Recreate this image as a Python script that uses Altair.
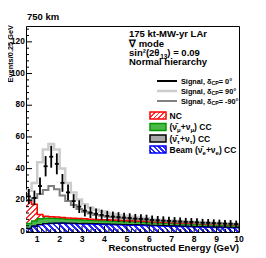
import altair as alt
import pandas as pd

# ---------------- data ----------------
# 38 bins of 0.25 GeV between 0.5 and 10 GeV (lower bin edges)
bin_lo = [round(0.5 + 0.25 * i, 3) for i in range(38)]

# stacked backgrounds (per-bin contributions, events / 0.25 GeV)
beam = [2.2, 3.7, 4.6, 5.2, 5.4, 5.5, 5.5, 5.4, 5.3, 5.2, 5.1, 5.0, 4.9, 4.8, 4.7, 4.6, 4.5, 4.4, 4.3, 4.3, 4.2, 4.1,
        4.0, 3.9, 3.8, 3.7, 3.6, 3.5, 3.4, 3.3, 3.2, 3.1, 3.0, 2.9, 2.9, 2.8, 2.7, 2.7]
tau = [0.1, 0.1, 0.1, 0.1, 0.1, 0.1, 0.2, 0.2, 0.2, 0.2, 0.4, 0.4, 0.4, 0.4, 0.4, 0.4, 0.4, 0.4, 0.4, 0.4, 0.4, 0.4,
       0.3, 0.3, 0.3, 0.3, 0.3, 0.3, 0.3, 0.3, 0.3, 0.3, 0.3, 0.3, 0.3, 0.3, 0.3, 0.3]
numu = [3.1, 3.2, 3.6, 3.3, 3.1, 2.9, 2.6, 2.5, 2.4, 2.3, 2.0, 2.0, 1.9, 1.9, 1.9, 1.8, 1.8, 1.8, 1.8, 1.7, 1.7, 1.7,
        1.6, 1.6, 1.5, 1.5, 1.5, 1.4, 1.4, 1.4, 1.3, 1.3, 1.3, 1.2, 1.2, 1.2, 1.1, 1.1]
nc = [14.6, 10.5, 2.7, 1.4, 1.0, 0.9, 0.8, 0.8, 0.8, 0.8, 0.8, 0.7, 0.7, 0.7, 0.7, 0.7, 0.7, 0.6, 0.6, 0.6, 0.6, 0.6,
      0.5, 0.5, 0.5, 0.5, 0.5, 0.5, 0.5, 0.5, 0.5, 0.5, 0.5, 0.5, 0.5, 0.5, 0.5, 0.5]

# signal + background totals
sig0 = [22.5, 21.5, 29, 41.5, 47.5, 43, 31, 25, 19.5, 16, 13.5, 12.3, 11.5, 10.8, 10.2, 9.8, 9.4, 9.1, 8.8, 8.5, 8.3, 8.1,
        7.6, 7.4, 7.2, 7.0, 6.8, 6.6, 6.4, 6.3, 6.1, 5.9, 5.8, 5.6, 5.5, 5.3, 5.2, 5.0]
err0 = [4.7, 4.6, 5.4, 6.4, 6.9, 6.6, 5.6, 5.0, 4.4, 4.0, 3.7, 3.5, 3.4, 3.3, 3.2, 3.1, 3.1, 3.0, 3.0, 2.9, 2.9, 2.8,
        2.8, 2.7, 2.7, 2.6, 2.6, 2.6, 2.5, 2.5, 2.5, 2.4, 2.4, 2.4, 2.3, 2.3, 2.3, 2.2]
sig90 = [26, 31, 44, 52, 55.5, 52, 40, 31, 25, 20.5, 17.5, 15.5, 14, 13, 12, 11.3, 10.7, 10.2, 9.8, 9.4, 9.0, 8.7,
         7.9, 7.7, 7.5, 7.3, 7.1, 6.9, 6.7, 6.5, 6.4, 6.2, 6.0, 5.8, 5.7, 5.5, 5.4, 5.2]
sigm90 = [20, 21.5, 24, 26.5, 29, 27, 23, 19.5, 17, 14.5, 12.8, 11.6, 10.8, 10.2, 9.7, 9.3, 9.0, 8.7, 8.4, 8.2, 8.0, 7.8,
          7.3, 7.1, 6.9, 6.7, 6.6, 6.4, 6.2, 6.1, 5.9, 5.7, 5.6, 5.4, 5.3, 5.1, 5.0, 4.9]

x_major = [1, 2, 3, 4, 5, 6, 7, 8, 9, 10]
y_major = [0, 20, 40, 60, 80, 100, 120]
x_minor = [round(0.6 + 0.2 * i, 2) for i in range(48) if abs((0.6 + 0.2 * i) - round(0.6 + 0.2 * i)) > 1e-6]
y_minor = [4 * i for i in range(33) if (4 * i) % 20 != 0]

# ---------------- derived tables ----------------
df = pd.DataFrame(dict(lo=bin_lo, beam=beam, tau=tau, numu=numu, nc=nc,
                       sig0=sig0, err0=err0, sig90=sig90, sigm90=sigm90))
df["c"] = df.lo + 0.125
df["b0"] = 0.0
df["b1"] = df.beam
df["b2"] = df.b1 + df.tau
df["b3"] = df.b2 + df.numu
df["b4"] = df.b3 + df.nc
df["elo"] = df.sig0 - df.err0
df["ehi"] = df.sig0 + df.err0
df["xl"] = df.c - 0.09
df["xr"] = df.c + 0.09
last = df.iloc[[-1]].copy()
last["lo"] = 10.0
edges = pd.concat([df, last], ignore_index=True)

W, H = 213, 206
YMAX = 130.0
FONT = "Liberation Sans"
LFS = 8.6
xs = alt.Scale(domain=[0.5, 10], nice=False, zero=False)
ys = alt.Scale(domain=[0, YMAX], nice=False, zero=True)


def X(f):
    return alt.X(f, scale=xs, axis=None)


def Y(f):
    return alt.Y(f, scale=ys, axis=None)


def ypix(v):
    return H - v * H / YMAX


def hatch(color, w, h, spacing=4.0, lw=1.2, back="white", direction="/"):
    """Diagonal hatch built as a hard-stop linear gradient over the mark's bounding box."""
    k = (w + h) / (w * w + h * h)
    n = max(1, int(round((w + h) / (spacing * 2 ** 0.5))))
    f = lw / spacing
    stops = []
    for i in range(n):
        a, b, e = i / n, (i + f) / n, (i + 1) / n
        stops += [alt.GradientStop(offset=a, color=color), alt.GradientStop(offset=b, color=color),
                  alt.GradientStop(offset=b, color=back), alt.GradientStop(offset=e, color=back)]
    if direction == "/":
        return alt.LinearGradient(gradient="linear", stops=stops, x1=0, y1=0, x2=k * w, y2=k * h)
    return alt.LinearGradient(gradient="linear", stops=stops, x1=0, y1=1, x2=k * w, y2=1 - k * h)


layers = []


def area(top, bot, fill):
    return alt.Chart(edges).mark_area(interpolate="step-after", fill=fill, strokeWidth=0).encode(
        x=X("lo:Q"), y=Y(f"{top}:Q"), y2=f"{bot}:Q")


def step(col, color, w):
    return alt.Chart(edges).mark_line(interpolate="step-after", color=color, strokeWidth=w).encode(
        x=X("lo:Q"), y=Y(f"{col}:Q"))


C_NC = "#ff0000"
C_MU_F, C_MU = "#4cb84c", "#009a00"
C_TAU_F, C_TAU = "#a8a8a8", "#000000"
C_BE = "#0000ff"

nc_top, nc_bot = ypix(df.b4.max()), ypix(df.b3.min())
be_top = ypix(df.b1.max())
NC_FILL = hatch("#ff3030", W, nc_bot - nc_top, spacing=4.0, lw=1.3, direction="/")
BE_FILL = hatch("#2a2aff", W, H - be_top, spacing=4.0, lw=2.0, direction="\\")

layers += [area("b1", "b0", BE_FILL), area("b2", "b1", C_TAU_F), area("b3", "b2", C_MU_F), area("b4", "b3", NC_FILL)]
layers += [step("b1", C_BE, 1.5), step("b2", C_TAU, 1), step("b3", C_MU, 1.5), step("b4", C_NC, 1.5)]
layers += [step("sig90", "#cccccc", 2.5), step("sigm90", "#808080", 2)]

# error crosses for delta_CP = 0
cross = alt.Chart(df)
layers.append(cross.mark_rule(color="black", strokeWidth=1.8).encode(x=X("c:Q"), y=Y("elo:Q"), y2="ehi:Q"))
layers.append(cross.mark_rule(color="black", strokeWidth=1.8).encode(x=X("xl:Q"), x2="xr:Q", y=Y("sig0:Q")))

# inward ticks (ROOT style)
tick_ym = alt.Chart(pd.DataFrame({"v": y_major})).mark_rule(color="black", strokeWidth=1).encode(
    y=Y("v:Q"), x=alt.value(0), x2=alt.value(6))
tick_yn = alt.Chart(pd.DataFrame({"v": y_minor})).mark_rule(color="black", strokeWidth=1).encode(
    y=Y("v:Q"), x=alt.value(0), x2=alt.value(3))
tick_xm = alt.Chart(pd.DataFrame({"v": x_major})).mark_rule(color="black", strokeWidth=1).encode(
    x=X("v:Q"), y=alt.value(H), y2=alt.value(H - 6))
tick_xn = alt.Chart(pd.DataFrame({"v": x_minor})).mark_rule(color="black", strokeWidth=1).encode(
    x=X("v:Q"), y=alt.value(H), y2=alt.value(H - 3))
layers += [tick_ym, tick_yn, tick_xm, tick_xn]

# tick labels placed through the scales
ylab = pd.DataFrame({"v": y_major, "x0": [0.5] * len(y_major)})
layers.append(alt.Chart(ylab).mark_text(
    align="right", baseline="middle", dx=-1.2, font=FONT, fontWeight="bold", fontSize=8.3, color="#000000").encode(
    x=X("x0:Q"), y=Y("v:Q"), text=alt.Text("v:Q", format="d")))
layers.append(alt.Chart(pd.DataFrame({"v": x_major})).mark_text(
    align="center", baseline="alphabetic", font=FONT, fontWeight="bold", fontSize=LFS, color="black").encode(
    x=X("v:Q"), y=alt.value(H + 9.5), text=alt.Text("v:Q", format="d")))

one = pd.DataFrame({"a": [0]})


def txt(t, px, py, fs, align="left", baseline="alphabetic", angle=0):
    kw = dict(align=align, baseline=baseline, font=FONT, fontWeight="bold", fontSize=fs, color="black")
    if angle:
        kw["angle"] = angle
    return alt.Chart(one).mark_text(**kw).encode(x=alt.value(px), y=alt.value(py), text=alt.value(t))


AW = {' ': 278, '(': 333, ')': 333, '+': 584, '=': 584, ',': 278, '.': 278, '/': 278, '-': 333, '°': 400, '²': 333,
      'A': 722, 'B': 722, 'C': 722, 'E': 667, 'G': 778, 'L': 611, 'M': 833, 'N': 722, 'P': 667, 'R': 722,
      'S': 667, 'V': 667, 'W': 944, 'a': 556, 'b': 611, 'c': 556, 'd': 611, 'e': 556, 'g': 611, 'h': 611,
      'i': 278, 'k': 556, 'l': 278, 'm': 889, 'n': 611, 'o': 611, 'r': 389, 's': 556, 't': 333, 'u': 611,
      'v': 556, 'y': 556, 'δ': 611, 'θ': 611, 'ν': 556, 'μ': 611, 'τ': 500, '∇': 700, '\u0304': 0}


def tw(s, fs):
    return sum(AW.get(ch, 556) for ch in s) * fs / 1000.0


def rich(pieces, x0, base, fs, sfs, sdy):
    out, x = [], x0
    for t, sub in pieces:
        f = sfs if sub else fs
        out.append(txt(t, x, base + (sdy if sub else 0), f))
        x += tw(t, f)
    return out


# titles
layers.append(txt("750 km", 1, -6, 9.5))
layers.append(txt("Events/0.25 GeV", -12.6, -1, 7.4, align="right", angle=270))
layers.append(txt("Reconstructed Energy (GeV)", W, 225, 9.6, align="right"))

# info block
IX = 103
layers.append(txt("175 kt-MW-yr LAr", IX, 11, 9.5))
layers.append(txt("∇ mode", IX, 20.5, 9.5))
layers += rich([("sin²(2θ", False), ("13", True), (") = 0.09", False)], IX, 30, 9.5, 6.5, 2.5)
layers.append(txt("Normal hierarchy", IX, 39, 9.5))

# signal legend (line samples)
for yc, col, w, val in [(55, "black", 2, " = 0°"), (65, "#cccccc", 2.5, " = 90°"),
                        (75, "#808080", 2, " = -90°")]:
    layers.append(alt.Chart(one).mark_rule(color=col, strokeWidth=w).encode(
        x=alt.value(131), x2=alt.value(151), y=alt.value(yc)))
    layers += rich([("Signal, δ", False), ("CP", True), (val, False)], 155, yc + 2.6, 7.3, 5.3, 1.8)

# background legend (boxes)
LX0, LX1, TX = 124, 140, 143.5
FS, SFS, SDY = 8.5, 6, 2
box_specs = [
    (89.5, hatch("#ff3030", 16, 7, 3.5, 1.2), C_NC, [("NC", False)]),
    (101, C_MU_F, C_MU, [("(ν\u0304", False), ("μ", True), ("+ν", False), ("μ", True), (") CC", False)]),
    (112.5, C_TAU_F, C_TAU, [("(ν\u0304", False), ("τ", True), ("+ν", False), ("τ", True), (") CC", False)]),
    (123.5, hatch("#2a2aff", 16, 7, 3.5, 1.8, direction="\\"), C_BE,
     [("Beam (ν\u0304", False), ("e", True), ("+ν", False), ("e", True), (") CC", False)]),
]
for yc, fill, stroke, pieces in box_specs:
    layers.append(alt.Chart(one).mark_rect(fill=fill, stroke=stroke, strokeWidth=1.5).encode(
        x=alt.value(LX0), x2=alt.value(LX1), y=alt.value(yc - 3.5), y2=alt.value(yc + 3.5)))
    layers += rich(pieces, TX, yc + 3, FS, SFS, SDY)

chart = alt.layer(*layers).properties(
    width=W, height=H, autosize="none",
    padding={"left": 18, "top": 18, "right": 18, "bottom": 24},
).configure_view(stroke="black", strokeWidth=1)

chart.save("out.html", embed_options={"renderer": "svg", "actions": False})
